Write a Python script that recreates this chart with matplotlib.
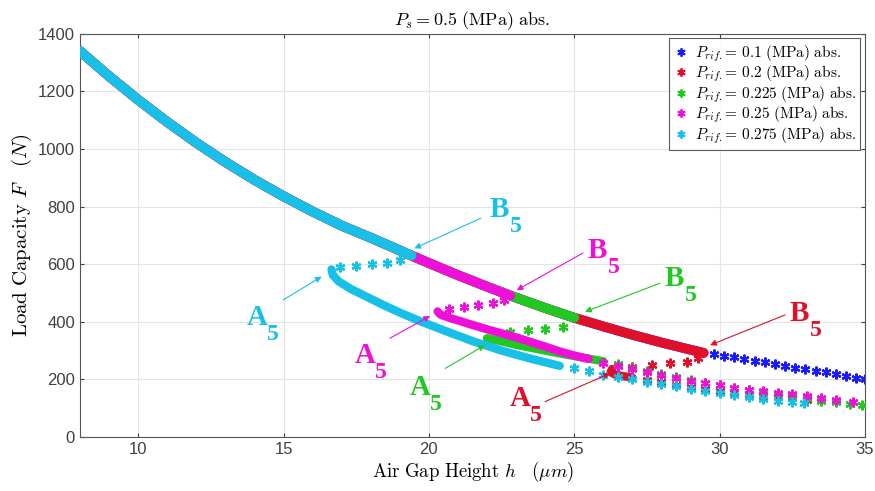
import matplotlib
matplotlib.use('Agg')
import matplotlib.pyplot as plt
from matplotlib.lines import Line2D

plt.rcParams['mathtext.fontset'] = 'cm'
plt.rcParams['font.family'] = ['Liberation Sans', 'DejaVu Sans']

# Upper (stable) branch, shared by all curves up to their B5 point
h_upper = [8, 9, 10, 11, 12, 13, 14, 15, 16, 17, 18, 19, 19.4, 20, 21, 22, 22.8,
           23, 24, 25, 26, 27, 28, 29, 29.45]
F_upper = [1340, 1253, 1171, 1094, 1022, 955, 893, 836, 783, 734, 692, 648, 630,
           604, 562, 522, 491, 484, 448, 414, 384, 355, 328, 303, 292]

labels = ['0.1', '0.2', '0.225', '0.25', '0.275']
colors = ['#1a1aff', '#e0102a', '#22c822', '#ee10d8', '#18c0e8']
b5_h = [29.45, 29.45, 25.0, 22.8, 19.4]

# P_rif = 0.1 : only the stable branch, sparse beyond 29.5
blue_tail_h = [29.8, 30.15, 30.5, 30.85, 31.2, 31.55, 31.9, 32.25, 32.6, 32.95,
               33.3, 33.65, 34.0, 34.35, 34.7, 35.0]
blue_tail_F = [288, 283, 277, 271, 265, 259, 253, 247, 241, 235, 229, 224, 218,
               213, 206, 201]

# P_rif = 0.2
red_unst_h = [29.27, 28.87, 28.3, 27.67, 26.98]
red_unst_F = [273, 262, 256, 250, 244]
red_low_h = [26.3, 26.25, 26.4, 26.7, 27.0]
red_low_F = [236, 225, 217, 211, 206]
red_tail_h = [27.5, 28.0, 28.5, 29.0, 29.5, 30.0, 30.5, 31.0, 31.5, 32.0, 32.5, 33.0]
red_tail_F = [198, 190, 182, 174, 167, 161, 155, 150, 144, 139, 134, 128]

# P_rif = 0.225
green_unst_h = [24.6, 24.0, 23.4, 22.8]
green_unst_F = [383, 375, 370, 364]
green_low_h = [22.0, 22.5, 23.0, 23.5, 24.0, 24.5, 25.0, 25.5, 26.0]
green_low_F = [343, 332, 320, 310, 300, 290, 281, 272, 263]
green_tail_h = [26.5, 27.0, 27.5, 28.0, 28.5, 29.0, 29.5, 30.0, 30.5, 31.0, 31.5,
                32.0, 32.5, 33.0, 33.5, 34.0, 34.5, 34.9]
green_tail_F = [252, 241, 230, 219, 208, 198, 189, 180, 171, 163, 155, 148, 141,
                134, 126, 120, 115, 111]

# P_rif = 0.25
mag_unst_h = [22.6, 22.2, 21.7, 21.2, 20.7]
mag_unst_F = [477, 467, 458, 450, 443]
mag_low_h = [20.3, 20.4, 20.7, 21.0, 21.5, 22.0, 22.5, 23.0, 23.5, 24.0, 24.5, 25.0, 25.5]
mag_low_F = [436, 425, 414, 405, 389, 374, 360, 346, 330, 314, 297, 283, 271]
mag_tail_h = [26.0, 26.5, 27.0, 27.5, 28.0, 28.5, 29.0, 29.5, 30.0, 30.5, 31.0,
              31.5, 32.0, 32.5, 33.0, 33.5, 34.0, 34.6]
mag_tail_F = [258, 247, 236, 225, 214, 204, 195, 187, 179, 171, 164, 158, 154,
              149, 143, 136, 129, 123]

# P_rif = 0.275
cyan_unst_h = [19.0, 18.55, 18.05, 17.5, 16.95]
cyan_unst_F = [614, 605, 600, 595, 590]
cyan_low_h = [16.65, 16.7, 16.9, 17.3, 17.9, 18.4, 19.0, 19.7, 20.6, 21.5, 22.5, 23.5, 24.5]
cyan_low_F = [582, 562, 540, 515, 485, 460, 432, 402, 367, 333, 300, 272, 247]
cyan_tail_h = [25.0, 25.5, 26.0, 26.5, 27.0, 27.5, 28.0, 28.5, 29.0, 29.5, 30.0,
               30.5, 31.0, 31.5, 32.0, 32.5, 32.9]
cyan_tail_F = [238, 228, 217, 208, 200, 192, 184, 176, 168, 161, 153, 145, 138,
               131, 126, 121, 117]

unst = [([], []), (red_unst_h, red_unst_F), (green_unst_h, green_unst_F),
        (mag_unst_h, mag_unst_F), (cyan_unst_h, cyan_unst_F)]
low = [([], []), (red_low_h, red_low_F), (green_low_h, green_low_F),
       (mag_low_h, mag_low_F), (cyan_low_h, cyan_low_F)]
tail = [(blue_tail_h, blue_tail_F), (red_tail_h, red_tail_F),
        (green_tail_h, green_tail_F), (mag_tail_h, mag_tail_F),
        (cyan_tail_h, cyan_tail_F)]

AST = (6, 2, 0)

fig = plt.figure(figsize=(8.75, 4.91), dpi=100)
ax = fig.add_axes([0.0914, 0.110, 0.8972, 0.821])

for i, c in enumerate(colors):
    hu = [h for h in h_upper if h <= b5_h[i]]
    Fu = F_upper[:len(hu)]
    ax.plot(hu, Fu, '-', color=c, lw=7, solid_capstyle='round', zorder=2 + i)
    lh, lF = low[i]
    if lh:
        ax.plot(lh, lF, '-', color=c, lw=6, solid_capstyle='round', zorder=2 + i)
    uh, uF = unst[i]
    th, tF = tail[i]
    ax.plot(uh + th, uF + tF, ls='none', marker=AST, ms=7, mew=1.6, color=c,
            zorder=2 + i)

ax.set_xlim(8, 35)
ax.set_ylim(0, 1400)
ax.set_xticks([10, 15, 20, 25, 30, 35])
ax.set_yticks(range(0, 1401, 200))
ax.grid(True, color='#e4e4e4', lw=0.8)
ax.set_axisbelow(True)
for s in ax.spines.values():
    s.set_color('#555555')
    s.set_linewidth(0.8)
ax.tick_params(labelsize=12, colors='#404040', length=3, direction='in',
               top=True, right=True)

ax.set_title(r'$P_s = 0.5\ \mathrm{(MPa)\ abs.}$', fontsize=13, pad=6)
ax.set_xlabel(r'$\mathrm{Air\ Gap\ Height}\ h\quad (\mu m)$', fontsize=13.5, labelpad=2)
ax.set_ylabel(r'$\mathrm{Load\ Capacity}\ F\quad (N)$', fontsize=15, labelpad=3)

# A5 / B5 markers: (letter, colour idx, text baseline-left, arrow start, arrow tip)
notes = [
    ('B', 4, (22.1, 764), (21.79, 760), (19.5, 655)),
    ('A', 4, (13.74, 388), (14.99, 476), (16.31, 557)),
    ('B', 3, (25.47, 621), (25.3, 639), (23.02, 510)),
    ('A', 3, (17.46, 256), (18.66, 343), (20.04, 420)),
    ('B', 2, (28.12, 524), (27.95, 534), (25.37, 435)),
    ('A', 2, (19.35, 145), (20.56, 238), (21.93, 319)),
    ('B', 1, (32.42, 403), (32.25, 424), (29.67, 319)),
    ('A', 1, (22.79, 108), (24.0, 123), (26.23, 221)),
]
for txt, ci, tp, st, tip in notes:
    c = colors[ci]
    ax.text(tp[0], tp[1], txt, color=c, fontsize=21, fontweight='bold',
            family='Liberation Serif', ha='left', va='baseline', zorder=10)
    ax.annotate('5', xy=tp, xytext=(14.5, 1), textcoords='offset points',
                color=c, fontsize=17, fontweight='bold', family='Liberation Serif',
                ha='left', va='top', zorder=10)
    ax.annotate('', xy=tip, xytext=st,
                arrowprops=dict(arrowstyle='-|>', color=c, lw=0.8,
                                mutation_scale=9, shrinkA=0, shrinkB=0),
                zorder=10)

handles = [Line2D([], [], ls='none', marker=AST, ms=6, mew=1.3, color=c)
           for c in colors]
leg_labels = [r'$P_{rif.}\!=\,\mathrm{%s\ (MPa)\ abs.}$' % v for v in labels]
leg = ax.legend(handles, leg_labels, loc='upper right', fontsize=11,
                frameon=True, fancybox=False, edgecolor='#333333',
                borderaxespad=0.3, handlelength=1.0, handletextpad=0.4,
                labelspacing=0.0, borderpad=0.3)
leg.get_frame().set_linewidth(0.8)

fig.savefig('out.png', dpi=100)
